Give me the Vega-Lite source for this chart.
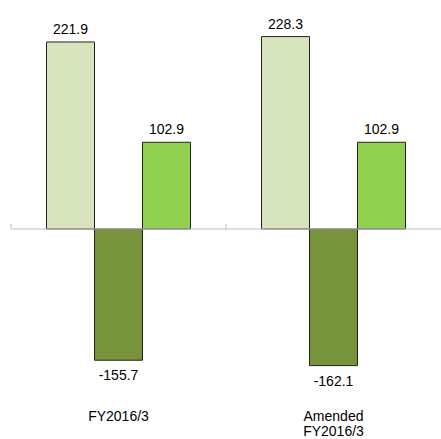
{
  "$schema": "https://vega.github.io/schema/vega-lite/v6.json",
  "width": 430,
  "height": 400,
  "autosize": "none",
  "padding": {"left": 11, "top": 0, "right": 0, "bottom": 39},
  "config": {"view": {"stroke": null}, "font": "Liberation Sans"},
  "data": {"values": [
    {"period": "FY2016/3", "item": "A", "value": 221.9},
    {"period": "FY2016/3", "item": "B", "value": -155.7},
    {"period": "FY2016/3", "item": "C", "value": 102.9},
    {"period": "Amended FY2016/3", "item": "A", "value": 228.3},
    {"period": "Amended FY2016/3", "item": "B", "value": -162.1},
    {"period": "Amended FY2016/3", "item": "C", "value": 102.9}
  ]},
  "layer": [
    {
      "mark": {"type": "bar", "stroke": "#222222", "strokeWidth": 1},
      "encoding": {
        "x": {"field": "period", "type": "nominal", "sort": null,
          "scale": {"paddingInner": 0, "paddingOuter": 0},
          "axis": {"orient": "bottom", "domain": false, "ticks": false, "grid": false, "labelAngle": 0,
            "labelFontSize": 14, "labelColor": "#000000", "labelPadding": 9, "labelBaseline": "top",
            "labelLineHeight": 15.5, "title": null,
            "labelExpr": "datum.value == 'Amended FY2016/3' ? ['Amended', 'FY2016/3'] : datum.value"}},
        "xOffset": {"field": "item", "type": "nominal", "sort": null, "scale": {"paddingInner": 0, "paddingOuter": 0.74}},
        "y": {"field": "value", "type": "quantitative", "scale": {"domain": [-202.9, 271.7], "nice": false, "zero": false}, "axis": null},
        "color": {"field": "item", "type": "nominal", "scale": {"domain": ["A", "B", "C"], "range": ["#d7e4bd", "#77933c", "#92d050"]}, "legend": null}
      }
    },
    {
      "data": {"values": [{"z": 0}]},
      "mark": {"type": "rule", "color": "#bfbfbf", "strokeWidth": 1},
      "encoding": {"y": {"field": "z", "type": "quantitative"}}
    },
    {
      "data": {"values": [{"period": "FY2016/3", "z": 0, "t": 6}, {"period": "Amended FY2016/3", "z": 0, "t": 6}]},
      "mark": {"type": "rule", "color": "#bfbfbf", "strokeWidth": 1},
      "encoding": {
        "x": {"field": "period", "type": "nominal", "sort": null, "bandPosition": 0},
        "y": {"field": "z", "type": "quantitative"},
        "y2": {"field": "t"}
      }
    },
    {
      "transform": [{"filter": "datum.value > 0"}],
      "mark": {"type": "text", "fontSize": 14, "baseline": "alphabetic", "dy": -8, "color": "#000000"},
      "encoding": {
        "x": {"field": "period", "type": "nominal", "sort": null},
        "xOffset": {"field": "item", "type": "nominal", "sort": null},
        "y": {"field": "value", "type": "quantitative"},
        "text": {"field": "value", "type": "nominal"}
      }
    },
    {
      "transform": [{"filter": "datum.value < 0"}],
      "mark": {"type": "text", "fontSize": 14, "baseline": "alphabetic", "dy": 20, "color": "#000000"},
      "encoding": {
        "x": {"field": "period", "type": "nominal", "sort": null},
        "xOffset": {"field": "item", "type": "nominal", "sort": null},
        "y": {"field": "value", "type": "quantitative"},
        "text": {"field": "value", "type": "nominal"}
      }
    }
  ]
}
